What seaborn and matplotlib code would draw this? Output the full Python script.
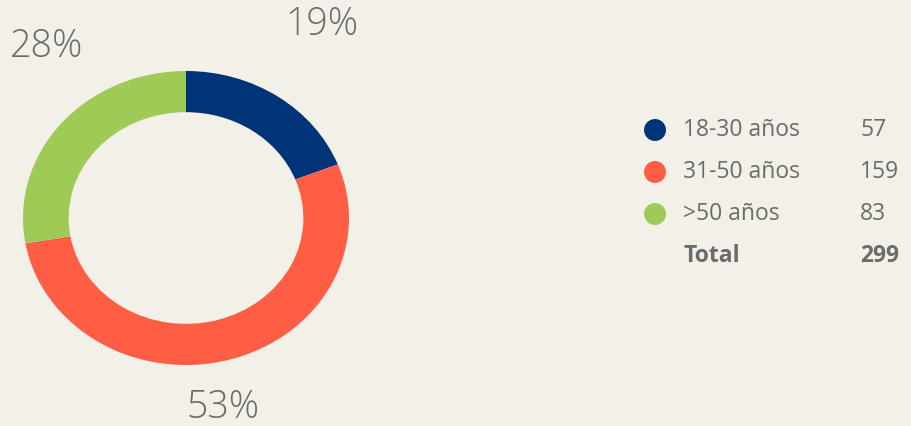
import seaborn as sns
import matplotlib.pyplot as plt

groups = ["18-30 años", "31-50 años", ">50 años"]
counts = [57, 159, 83]
percents = ["19%", "53%", "28%"]
total_label = "Total"
colors = ["#003478", "#FF5E45", "#A0CA56"]

bg = "#F3F0E7"
grey = "#6B6B6B"

sns.set_theme(style="white", rc={"figure.facecolor": bg, "axes.facecolor": bg})
plt.rcParams["font.family"] = ["Open Sans", "DejaVu Sans"]

W, H = 911, 426
fig = plt.figure(figsize=(W / 100, H / 100), dpi=100)

# donut, slightly wider than tall like the reference
left, right, top, bottom = 23, 349, 71, 365
ax = fig.add_axes([left / W, 1 - bottom / H, (right - left) / W, (bottom - top) / H])
ax.pie(counts, colors=sns.color_palette(colors), startangle=90, counterclock=False,
       wedgeprops=dict(width=0.28, linewidth=0))
ax.set_aspect("auto")
ax.set_xlim(-1, 1)
ax.set_ylim(-1, 1)
ax.axis("off")

# percent labels (pixel positions)
label_pos = [(322, 25), (223, 408), (47, 47)]
for txt, (x, y) in zip(percents, label_pos):
    fig.text(x / W, 1 - y / H, txt, ha="center", va="center", fontsize=27,
             color=grey, fontweight="light")

# legend table
lax = fig.add_axes([0, 0, 1, 1])
row0, step = 130, 42
rows = [row0 + i * step for i in range(len(groups))]
sns.scatterplot(x=[655] * len(groups), y=rows, hue=groups, palette=colors,
                s=250, linewidth=0, legend=False, ax=lax)
lax.set_xlim(0, W)
lax.set_ylim(H, 0)
lax.axis("off")
fs = 16.5
for g, c, y in zip(groups, counts, rows):
    lax.text(683, y, g, ha="left", va="center", fontsize=fs, color=grey)
    lax.text(860, y, str(c), ha="left", va="center", fontsize=fs, color=grey)
yt = row0 + len(groups) * step
lax.text(683, yt, total_label, ha="left", va="center", fontsize=fs, color=grey, fontweight="bold")
lax.text(860, yt, str(sum(counts)), ha="left", va="center", fontsize=fs, color=grey, fontweight="bold")

fig.savefig("out.png", dpi=100, facecolor=bg)
